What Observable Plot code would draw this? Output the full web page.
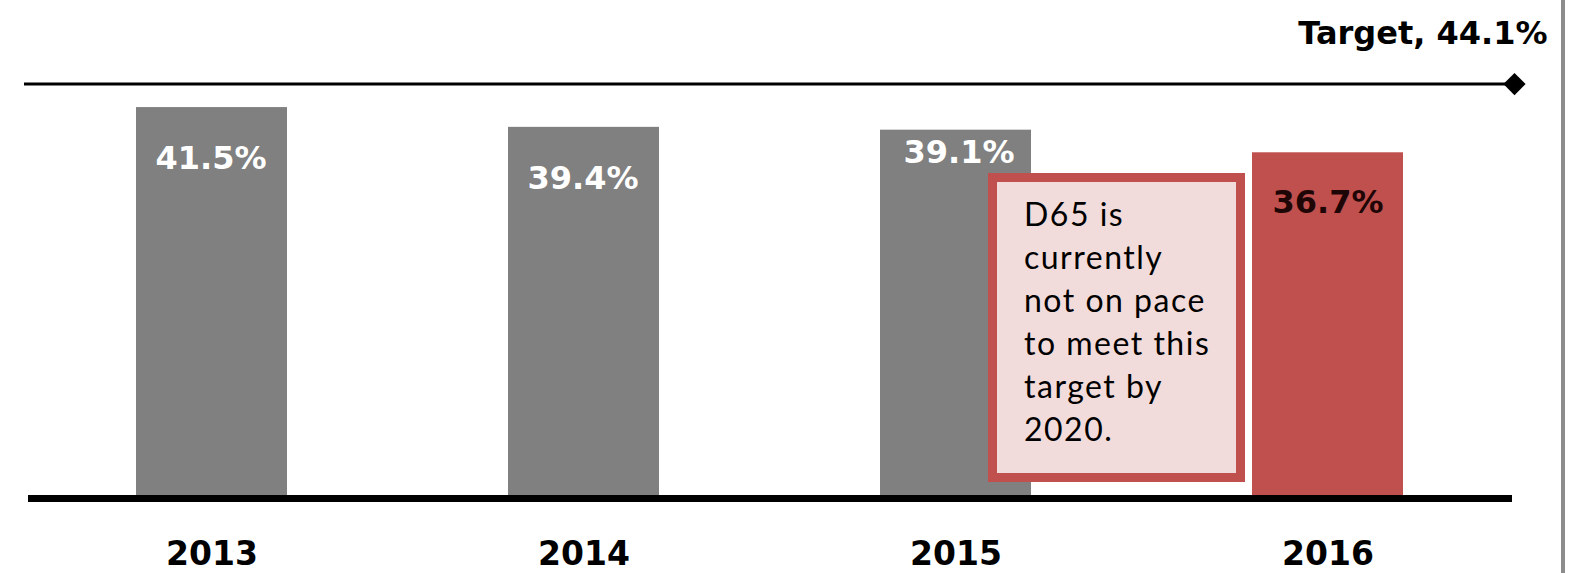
<!DOCTYPE html>
<html><head><meta charset="utf-8">
<script src="https://cdn.jsdelivr.net/npm/d3@7"></script>
<script src="https://cdn.jsdelivr.net/npm/@observablehq/plot@0.6"></script>
<style>
body{margin:0;background:#fff;}
#wrap{position:relative;width:1577px;height:573px;overflow:hidden;background:#fff;}
#wrap svg{position:absolute;left:0;top:0;}
#note{position:absolute;box-sizing:border-box;left:988px;top:173px;width:257px;height:309px;border:9px solid #c0504d;background:#f2dcdb;font-family:Lato,"Open Sans",sans-serif;font-size:32px;color:#000;padding:10px 0 0 27px;letter-spacing:1.5px;}
#note div{line-height:43px;white-space:nowrap;}
#edge{position:absolute;left:1561px;top:0;width:4px;height:573px;background:#8c8c8c;}
</style></head>
<body><div id="wrap"></div>
<script>
const years = ["2013", "2014", "2015", "2016"];
const rates = [41.5, 39.4, 39.1, 36.7];
const isCurrent = [false, false, false, true];
const target = 44.1;
const targetLabel = "Target, 44.1%";
const noteLines = ["D65 is", "currently", "not on pace", "to meet this", "target by", "2020."];

const data = years.map((year, i) => ({year, rate: rates[i], current: isCurrent[i]}));
const fmt = v => v.toFixed(1) + "%";
const font = "DejaVu Sans";

const chart = Plot.plot({
  width: 1577, height: 573,
  marginLeft: 24, marginRight: 63, marginTop: 27, marginBottom: 75,
  style: {background: "transparent", fontFamily: font, color: "#000"},
  x: {domain: years, range: [28, 1512], paddingInner: 0.594, paddingOuter: 0.29, label: null},
  y: {domain: [0, 50], axis: null},
  color: {domain: [false, true], range: ["#808080", "#c0504d"]},
  marks: [
    Plot.barY(data, {x: "year", y: "rate", fill: "current"}),
    Plot.ruleY([0], {stroke: "#000", strokeWidth: 7, insetLeft: 4, insetRight: 2}),
    Plot.ruleY([target], {stroke: "#000", strokeWidth: 3, dy: 1}),
    Plot.dot([target], {y: d => d, frameAnchor: "right", symbol: "diamond2", r: 10, fill: "#000", stroke: "none", dy: 1}),
    Plot.text([target], {y: d => d, text: () => targetLabel, frameAnchor: "right", textAnchor: "end", lineAnchor: "bottom", dx: 33, dy: -39, fontSize: 32, fontWeight: "bold", fill: "#000"}),
    Plot.text(data.filter(d => !d.current && d.year !== "2015"), {x: "year", y: "rate", text: d => fmt(d.rate), dy: 51, dx: -1, fill: "#fff", fontSize: 32, fontWeight: "bold"}),
    Plot.text(data.filter(d => d.year === "2015"), {x: "year", y: "rate", text: d => fmt(d.rate), dy: 23, dx: 3, fill: "#fff", fontSize: 32, fontWeight: "bold"}),
    Plot.text(data.filter(d => d.current), {x: "year", y: "rate", text: d => fmt(d.rate), dy: 50, fill: "#1e0606", fontSize: 32, fontWeight: "bold"}),
    Plot.axisX({tickSize: 0, tickPadding: 43, fontSize: 33, fontWeight: "bold", fill: "#000", label: null})
  ]
});

const wrap = document.getElementById("wrap");
wrap.appendChild(chart);
const note = document.createElement("div");
note.id = "note";
noteLines.forEach(t => { const l = document.createElement("div"); l.textContent = t; note.appendChild(l); });
wrap.appendChild(note);
const edge = document.createElement("div");
edge.id = "edge";
wrap.appendChild(edge);
</script>
</body></html>
